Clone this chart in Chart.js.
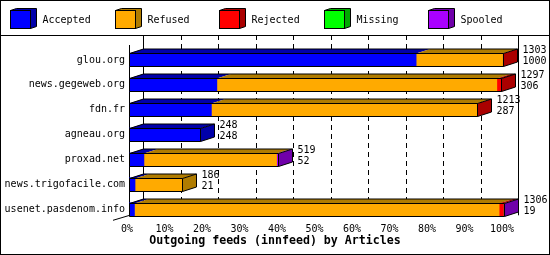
<!DOCTYPE html>
<html>
<head>
<meta charset="utf-8">
<script src="https://cdn.jsdelivr.net/npm/chart.js@4/dist/chart.umd.min.js"></script>
<style>
  html, body { margin: 0; padding: 0; background: #fff; }
</style>
</head>
<body>
<canvas id="feedsChart" width="550" height="255"></canvas>
<script>
var hosts = ["glou.org", "news.gegeweb.org", "fdn.fr", "agneau.org", "proxad.net", "news.trigofacile.com", "usenet.pasdenom.info"];
var offered  = [1303, 1297, 1213, 248, 519, 186, 1306];
var accepted = [1000, 306, 287, 248, 52, 21, 19];
var refused  = [301, 975, 924, 0, 462, 165, 1270];
var rejected = [2, 16, 2, 0, 0, 0, 15];
var missing  = [0, 0, 0, 0, 0, 0, 0];
var spooled  = [0, 0, 0, 0, 5, 0, 2];
var xTicks = [0, 10, 20, 30, 40, 50, 60, 70, 80, 90, 100];

var seriesNames = ["Accepted", "Refused", "Rejected", "Missing", "Spooled"];
var seriesColors = ["#0000ff", "#ffaa00", "#ff0000", "#00ff00", "#aa00ff"];
var sideColors = ["#0000aa", "#b07c00", "#aa0000", "#00aa00", "#7000aa"];

var maxOffered = Math.max.apply(null, offered);
var toPct = function(arr) {
  return arr.map(function(v) { return v / maxOffered * 100; });
};

var series = [accepted, refused, rejected, missing, spooled];
var DX = 14, DY = 4.5;
var fontFamily = "'DejaVu Sans Mono', monospace";

function px(v) { return Math.round(v) + 0.5; }

var frame3d = {
  id: "frame3d",
  beforeDatasetsDraw: function(chart) {
    var ctx = chart.ctx, xs = chart.scales.x, area = chart.chartArea;
    var x0 = xs.getPixelForValue(0);
    var frontTop = area.top - 2.5, frontBottom = area.bottom - 6;
    var backTop = 35, backBottom = frontBottom - DY;
    ctx.save();
    ctx.strokeStyle = "#000";
    ctx.lineWidth = 1;
    ctx.setLineDash([5, 4]);
    xTicks.forEach(function(t) {
      if (t === 0 || t === 100) return;
      var gx = px(xs.getPixelForValue(t) + DX);
      ctx.beginPath();
      ctx.moveTo(gx, backTop);
      ctx.lineTo(gx, backBottom);
      ctx.stroke();
    });
    ctx.setLineDash([]);
    ctx.beginPath();
    ctx.moveTo(px(x0 + DX), backTop);
    ctx.lineTo(px(x0 + DX), backBottom);
    ctx.moveTo(px(xs.getPixelForValue(100) + DX), backTop);
    ctx.lineTo(px(xs.getPixelForValue(100) + DX), backBottom + 4);
    ctx.moveTo(px(x0), frontTop);
    ctx.lineTo(px(x0), frontBottom);
    ctx.moveTo(x0 + DX, backBottom);
    ctx.lineTo(x0 - 16, frontBottom + 4.5);
    ctx.stroke();
    ctx.restore();
  },
  afterDatasetsDraw: function(chart) {
    var ctx = chart.ctx;
    ctx.save();
    ctx.lineWidth = 1;
    ctx.strokeStyle = "#000";
    hosts.forEach(function(h, i) {
      var segs = [];
      chart.data.datasets.forEach(function(ds, d) {
        if (!ds.data[i]) return;
        var p = chart.getDatasetMeta(d).data[i].getProps(["x", "y", "base", "height"], true);
        segs.push({ x0: Math.min(p.base, p.x), x1: Math.max(p.base, p.x), y: p.y, h: p.height, d: d });
      });
      if (!segs.length) return;
      var t = px(segs[0].y - segs[0].h / 2), b = px(segs[0].y + segs[0].h / 2);
      var xa = px(segs[0].x0), xe = px(segs[segs.length - 1].x1);
      segs.forEach(function(s) {
        ctx.fillStyle = sideColors[s.d];
        ctx.beginPath();
        ctx.moveTo(s.x0, t);
        ctx.lineTo(s.x1, t);
        ctx.lineTo(s.x1 + DX, t - DY);
        ctx.lineTo(s.x0 + DX, t - DY);
        ctx.closePath();
        ctx.fill();
      });
      var last = segs[segs.length - 1];
      ctx.fillStyle = sideColors[last.d];
      ctx.beginPath();
      ctx.moveTo(xe, t);
      ctx.lineTo(xe + DX, t - DY);
      ctx.lineTo(xe + DX, b - DY);
      ctx.lineTo(xe, b);
      ctx.closePath();
      ctx.fill();
      ctx.beginPath();
      ctx.rect(xa, t, xe - xa, b - t);
      ctx.moveTo(xa, t);
      ctx.lineTo(xa + DX, t - DY);
      ctx.lineTo(xe + DX, t - DY);
      ctx.lineTo(xe + DX, b - DY);
      ctx.lineTo(xe, b);
      ctx.moveTo(xe, t);
      ctx.lineTo(xe + DX, t - DY);
      ctx.stroke();

      var cy = (t + b) / 2;
      ctx.fillStyle = "#000";
      ctx.font = "10px " + fontFamily;
      ctx.textAlign = "left";
      ctx.textBaseline = "middle";
      ctx.fillText(String(offered[i]), xe + DX + 5, cy - 9.5);
      ctx.fillText(String(accepted[i]), xe + DX + 5, cy + 1.5);
    });
    ctx.restore();
  },
  afterDraw: function(chart) {
    var ctx = chart.ctx;
    ctx.save();
    ctx.strokeStyle = "#000";
    ctx.lineWidth = 1;
    ctx.strokeRect(0.5, 0.5, 549, 254);
    ctx.beginPath();
    ctx.moveTo(0, 35.5);
    ctx.lineTo(550, 35.5);
    ctx.stroke();
    seriesNames.forEach(function(name, k) {
      var fx = Math.round(10 + k * 104.5) + 0.5, fy = 10.5, w = 20, hh = 18, dx = 6, dy = 2;
      ctx.fillStyle = sideColors[k];
      ctx.beginPath();
      ctx.moveTo(fx, fy);
      ctx.lineTo(fx + dx, fy - dy);
      ctx.lineTo(fx + w + dx, fy - dy);
      ctx.lineTo(fx + w + dx, fy + hh - dy);
      ctx.lineTo(fx + w, fy + hh);
      ctx.lineTo(fx + w, fy);
      ctx.closePath();
      ctx.fill();
      ctx.stroke();
      ctx.fillStyle = seriesColors[k];
      ctx.fillRect(fx, fy, w, hh);
      ctx.strokeRect(fx, fy, w, hh);
      ctx.fillStyle = "#000";
      ctx.font = "10px " + fontFamily;
      ctx.textAlign = "left";
      ctx.textBaseline = "middle";
      ctx.fillText(name, fx + 32, 20);
    });
    ctx.font = "bold 11.6px " + fontFamily;
    ctx.textAlign = "center";
    ctx.fillText("Outgoing feeds (innfeed) by Articles", 275, 241);
    ctx.restore();
  }
};

Chart.defaults.font.family = fontFamily;
Chart.defaults.font.size = 10;
Chart.defaults.color = "#000";

var feedsChart = new Chart(document.getElementById("feedsChart"), {
  type: "bar",
  data: {
    labels: hosts,
    datasets: series.map(function(arr, k) {
      return {
        label: seriesNames[k],
        data: toPct(arr),
        backgroundColor: seriesColors[k],
        borderWidth: 0,
        barThickness: 13
      };
    })
  },
  options: {
    indexAxis: "y",
    responsive: false,
    animation: false,
    devicePixelRatio: 1,
    layout: { padding: { left: 0, right: 46, top: 47.5, bottom: 0 } },
    scales: {
      x: {
        stacked: true,
        min: 0,
        max: 100,
        grid: { display: false, drawTicks: false },
        border: { display: false },
        afterBuildTicks: function(s) {
          s.ticks = xTicks.map(function(v) { return { value: v }; });
        },
        afterFit: function(s) { s.height = 33.2; },
        ticks: {
          padding: 2,
          labelOffset: -2,
          maxRotation: 0,
          autoSkip: false,
          callback: function(v) { return v + "%"; }
        }
      },
      y: {
        stacked: true,
        grid: { display: false, drawTicks: false },
        border: { display: false },
        afterFit: function(s) { s.width = 129; },
        ticks: { padding: 4, autoSkip: false }
      }
    },
    plugins: {
      legend: { display: false },
      tooltip: { enabled: false }
    }
  },
  plugins: [frame3d]
});
</script>
</body>
</html>
